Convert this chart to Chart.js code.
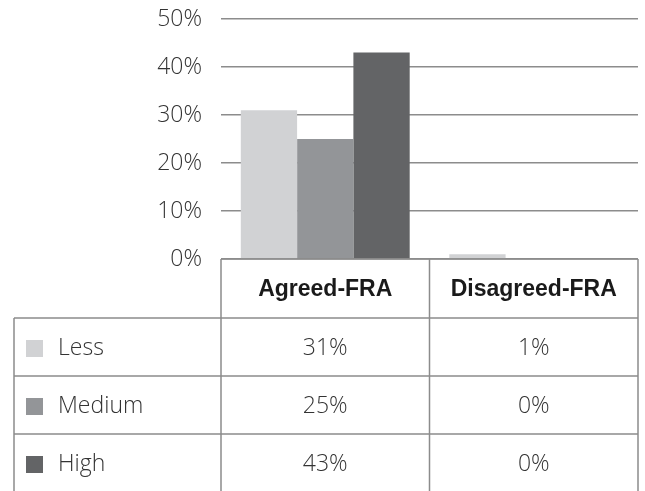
<!DOCTYPE html>
<html>
<head>
<meta charset="utf-8">
<script src="https://cdn.jsdelivr.net/npm/chart.js@4/dist/chart.umd.min.js"></script>
<style>
  body { margin: 0; background: #fff; }
  #wrap { width: 645px; height: 491px; position: relative; }
</style>
</head>
<body>
<div id="wrap"><canvas id="myChart"></canvas></div>
<script>
// data
const categories = ['Agreed-FRA', 'Disagreed-FRA'];
const seriesNames = ['Less', 'Medium', 'High'];
const lessValues = [31, 1];
const mediumValues = [25, 0];
const highValues = [43, 0];
const seriesColors = ['#d1d2d4', '#939598', '#636466'];
const yTicks = { min: 0, max: 50, step: 10 };

const lineColor = '#8c8c8c';
const tableLeft = 14;
const headerH = 59;
const rowH = 58;

// draws the data table under the plot (header + one row per series)
const dataTable = {
  id: 'dataTable',
  afterDraw(chart) {
    const ctx = chart.ctx;
    const area = chart.chartArea;
    const xs = chart.scales.x;
    const half = (area.right - area.left) / categories.length / 2;
    const top = area.bottom;
    const rowsTop = top + headerH;
    const bottomY = rowsTop + rowH * seriesNames.length;

    ctx.save();
    ctx.strokeStyle = lineColor;
    ctx.lineWidth = 1.5;

    // header box
    ctx.beginPath();
    ctx.moveTo(area.left, top); ctx.lineTo(area.right, top);
    categories.forEach((c, i) => {
      const x0 = xs.getPixelForValue(i) - half;
      ctx.moveTo(x0, top); ctx.lineTo(x0, bottomY);
    });
    ctx.moveTo(area.right, top); ctx.lineTo(area.right, bottomY);
    // rows
    for (let r = 0; r < seriesNames.length; r++) {
      const y = rowsTop + r * rowH;
      ctx.moveTo(tableLeft, y); ctx.lineTo(area.right, y);
    }
    ctx.moveTo(tableLeft, rowsTop); ctx.lineTo(tableLeft, bottomY);
    ctx.stroke();

    // header text
    ctx.fillStyle = '#1a1a1a';
    ctx.textAlign = 'center';
    ctx.textBaseline = 'middle';
    ctx.font = 'bold 23px "Liberation Sans", Arial, sans-serif';
    categories.forEach((c, i) => {
      ctx.fillText(c, xs.getPixelForValue(i), top + headerH / 2 + 1);
    });

    // rows: legend key, label, values
    chart.data.datasets.forEach((ds, r) => {
      const cy = rowsTop + r * rowH + rowH / 2 + 1;
      ctx.fillStyle = ds.backgroundColor;
      ctx.fillRect(26, cy - 8, 17, 17);
      ctx.fillStyle = '#333';
      ctx.font = '300 23px "Open Sans", "Noto Sans", sans-serif';
      ctx.textAlign = 'left';
      ctx.fillText(ds.label, 58, cy);
      ctx.textAlign = 'center';
      ds.data.forEach((v, i) => {
        ctx.fillText(v + '%', xs.getPixelForValue(i), cy);
      });
    });
    ctx.restore();
  }
};

const ctx = document.getElementById('myChart');
new Chart(ctx, {
  type: 'bar',
  data: {
    labels: categories,
    datasets: [
      { label: seriesNames[0], data: lessValues, backgroundColor: seriesColors[0] },
      { label: seriesNames[1], data: mediumValues, backgroundColor: seriesColors[1] },
      { label: seriesNames[2], data: highValues, backgroundColor: seriesColors[2] }
    ]
  },
  options: {
    responsive: true,
    maintainAspectRatio: false,
    animation: false,
    layout: { padding: { left: 0, right: 7, top: 19, bottom: 232 } },
    datasets: { bar: { categoryPercentage: 0.81, barPercentage: 1.0 } },
    plugins: { legend: { display: false }, tooltip: { enabled: false } },
    scales: {
      x: { display: false },
      y: {
        min: yTicks.min,
        max: yTicks.max,
        afterFit: s => { s.width = 221; s.paddingTop = 0; s.paddingBottom = 0; },
        border: { display: false },
        grid: { color: lineColor, lineWidth: 1.5, drawTicks: false },
        ticks: {
          stepSize: yTicks.step,
          padding: 19,
          color: '#333',
          font: { family: '"Open Sans", "Noto Sans", sans-serif', size: 23, weight: 300 },
          callback: v => v + '%'
        }
      }
    }
  },
  plugins: [dataTable]
});
</script>
</body>
</html>
